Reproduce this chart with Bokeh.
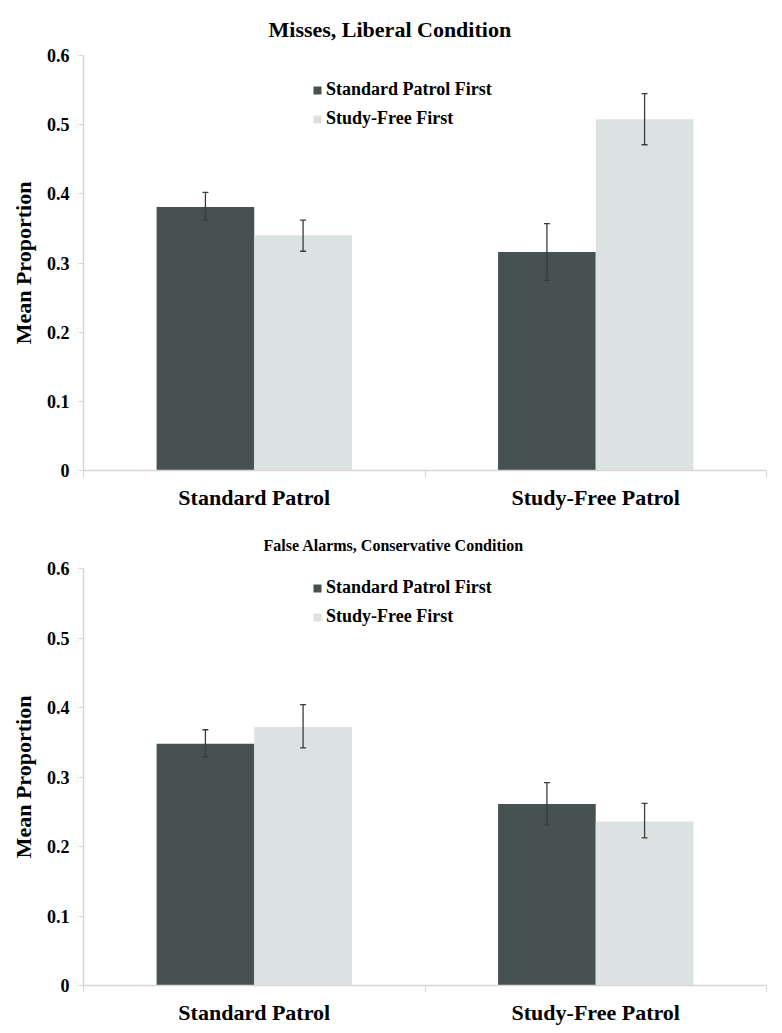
from bokeh.plotting import figure
from bokeh.layouts import column
from bokeh.models import (Range1d, FixedTicker, LinearAxis, Legend, LegendItem,
                          Whisker, TeeHead, ColumnDataSource, Title)
from bokeh.embed import file_html
from bokeh.resources import INLINE

# ---------------- data ----------------
categories = ["Standard Patrol", "Study-Free Patrol"]
series_names = ["Standard Patrol First", "Study-Free First"]
y_ticks = [0, 0.1, 0.2, 0.3, 0.4, 0.5, 0.6]

titles = ["Misses, Liberal Condition", "False Alarms, Conservative Condition"]

# top panel: Misses, Liberal Condition
misses_spf = [0.381, 0.316]
misses_spf_lo = [0.362, 0.275]
misses_spf_hi = [0.402, 0.357]
misses_sff = [0.340, 0.508]
misses_sff_lo = [0.317, 0.471]
misses_sff_hi = [0.362, 0.545]

# bottom panel: False Alarms, Conservative Condition
fa_spf = [0.348, 0.261]
fa_spf_lo = [0.329, 0.231]
fa_spf_hi = [0.368, 0.292]
fa_sff = [0.372, 0.236]
fa_sff_lo = [0.342, 0.2125]
fa_sff_hi = [0.404, 0.262]

# ---------------- style ----------------
FONT = "Liberation Serif"
DARK = "#465152"
LIGHT = "#dce2e1"
AXIS = "#d6d6d6"
ERR = "#3c3c3c"
BAR_W = 0.286


def make_panel(title, spf, spf_lo, spf_hi, sff, sff_lo, sff_hi,
               height, border_top, border_bottom, title_size, title_standoff,
               title_offset, legend_y):
    p = figure(width=774, height=height, output_backend="svg", toolbar_location=None,
               x_range=Range1d(0, len(categories)), y_range=Range1d(y_ticks[0], y_ticks[-1]),
               min_border_left=83, min_border_right=8,
               min_border_top=border_top, min_border_bottom=border_bottom,
               x_axis_type=None, y_axis_type=None)
    p.outline_line_color = None
    p.xgrid.visible = False
    p.ygrid.visible = False

    t = Title(text=title, align="left", offset=title_offset, text_font=FONT,
              text_font_style="bold", text_font_size=title_size, text_color="#000000",
              standoff=title_standoff)
    p.add_layout(t, "above")

    centers = [i + 0.5 for i in range(len(categories))]
    x1 = [c - BAR_W / 2 for c in centers]
    x2 = [c + BAR_W / 2 for c in centers]

    s1 = ColumnDataSource(dict(x=x1, top=spf, lo=spf_lo, hi=spf_hi))
    s2 = ColumnDataSource(dict(x=x2, top=sff, lo=sff_lo, hi=sff_hi))

    r1 = p.vbar(x="x", top="top", bottom=0, width=BAR_W, source=s1,
                fill_color=DARK, line_color=None)
    r2 = p.vbar(x="x", top="top", bottom=0, width=BAR_W, source=s2,
                fill_color=LIGHT, line_color=None)

    for s in (s1, s2):
        w = Whisker(source=s, base="x", upper="hi", lower="lo", level="annotation",
                    line_color=ERR, line_width=1.3,
                    upper_head=TeeHead(size=6, line_color=ERR, line_width=1.3),
                    lower_head=TeeHead(size=6, line_color=ERR, line_width=1.3))
        p.add_layout(w)

    # y axis
    yax = LinearAxis(ticker=FixedTicker(ticks=y_ticks, minor_ticks=[]))
    yax.axis_line_color = AXIS
    yax.axis_line_width = 1.5
    yax.major_tick_line_color = AXIS
    yax.major_tick_out = 5
    yax.major_tick_in = 0
    yax.minor_tick_line_color = None
    yax.major_label_text_font = FONT
    yax.major_label_text_font_style = "bold"
    yax.major_label_text_font_size = "18px"
    yax.major_label_text_color = "#000000"
    yax.major_label_standoff = 9
    yax.axis_label = "Mean Proportion"
    yax.axis_label_text_font = FONT
    yax.axis_label_text_font_style = "bold"
    yax.axis_label_text_font_size = "22px"
    yax.axis_label_text_color = "#000000"
    yax.axis_label_standoff = 8
    p.add_layout(yax, "left")

    # x axis
    xax = LinearAxis(ticker=FixedTicker(ticks=centers,
                                        minor_ticks=list(range(len(categories) + 1))))
    xax.major_label_overrides = {c: lab for c, lab in zip(centers, categories)}
    xax.axis_line_color = AXIS
    xax.axis_line_width = 1.5
    xax.major_tick_line_color = None
    xax.major_tick_out = 0
    xax.minor_tick_line_color = AXIS
    xax.minor_tick_out = 7
    xax.minor_tick_in = 0
    xax.major_label_text_font = FONT
    xax.major_label_text_font_style = "bold"
    xax.major_label_text_font_size = "22px"
    xax.major_label_text_color = "#000000"
    xax.major_label_standoff = 7
    p.add_layout(xax, "below")

    legend = Legend(items=[LegendItem(label=series_names[0], renderers=[r1]),
                           LegendItem(label=series_names[1], renderers=[r2])],
                    location=(229, legend_y), orientation="vertical",
                    glyph_width=10, glyph_height=10, label_height=20,
                    spacing=8, padding=0, margin=0, label_standoff=4,
                    border_line_color=None, background_fill_alpha=0,
                    label_text_font=FONT, label_text_font_style="bold",
                    label_text_font_size="18px", label_text_color="#000000")
    p.add_layout(legend, "center")
    return p


p1 = make_panel(titles[0], misses_spf, misses_spf_lo, misses_spf_hi,
                misses_sff, misses_sff_lo, misses_sff_hi,
                height=520, border_top=54, border_bottom=50, title_size="22px",
                title_standoff=28, title_offset=185, legend_y=341)
p2 = make_panel(titles[1], fa_spf, fa_spf_lo, fa_spf_hi,
                fa_sff, fa_sff_lo, fa_sff_hi,
                height=512, border_top=48, border_bottom=47, title_size="16px",
                title_standoff=29, title_offset=180, legend_y=358)

layout = column(p1, p2, spacing=0)

with open("out.html", "w") as f:
    f.write(file_html(layout, INLINE))
